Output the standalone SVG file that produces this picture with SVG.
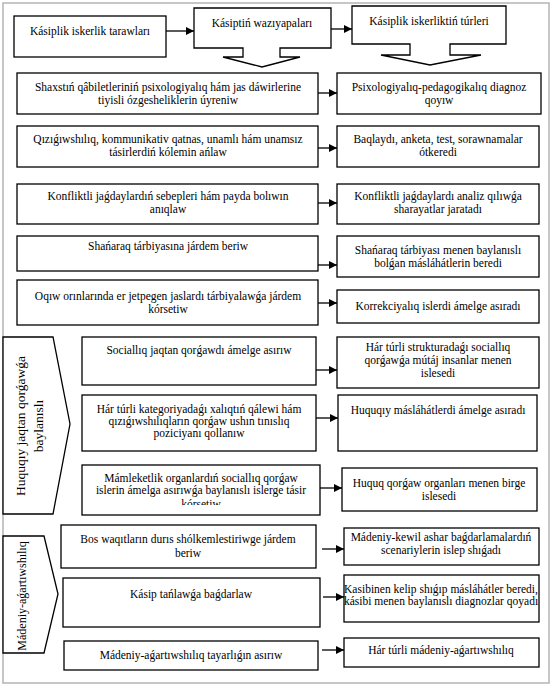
<svg xmlns="http://www.w3.org/2000/svg" width="553" height="688" viewBox="0 0 553 688">
<style>
.frame{fill:#fff;stroke:#b4b4b4;stroke-width:1.5}
.box{fill:#fff;stroke:#000;stroke-width:1.3}
.t{font-family:"Liberation Serif","Times New Roman",serif;font-size:11.5px;text-anchor:middle;fill:#000}
.vt{font-family:"Liberation Serif","Times New Roman",serif;font-size:13.5px;text-anchor:middle;fill:#000}
.ar{stroke:#000;stroke-width:1.3;fill:none;marker-end:url(#ah)}
</style>
<defs>
<marker id="ah" viewBox="0 0 10 10" refX="10" refY="5" markerWidth="8" markerHeight="8" orient="auto" markerUnits="userSpaceOnUse"><path d="M0,0 L10,5 L0,10 z" fill="#000"/></marker>
<clipPath id="c8"><rect x="82" y="465" width="238" height="40"/></clipPath>
</defs>
<rect class="frame" x="3" y="3" width="546" height="680"/>

<g id="n-tarawlar"><rect class="box" x="14" y="16" width="152" height="41"/><text class="t" x="90" y="35">Kásiplik iskerlik tarawları</text></g>
<g id="n-wazıypalar"><path class="box" d="M194,8 H331 V48 H280 V57 H300 L262,67 L223,57 H243 V48 H194 Z"/><text class="t" x="262" y="27">Kásiptiń wazıyapaları</text></g>
<g id="n-turler"><path class="box" d="M352,6 H506 V44 H450 V55 H481 L430,65 L381,55 H410 V44 H352 Z"/><text class="t" x="429" y="25">Kásiplik iskerliktiń túrleri</text></g>

<g id="r1l"><rect class="box" x="17" y="73" width="301" height="41"/><text class="t" x="168"><tspan x="168" y="91">Shaxstıń qâbiletleriniń psixologiyalıq hám jas dáwirlerine</tspan><tspan x="168" y="104">tiyisli  ózgesheliklerin úyreniw</tspan></text></g>
<g id="r1r"><rect class="box" x="337" y="73" width="204" height="41"/><text class="t"><tspan x="439" y="91">Psixologiyalıq-pedagogikalıq diagnoz</tspan><tspan x="439" y="104">qoyıw</tspan></text></g>

<g id="r2l"><rect class="box" x="17" y="126" width="301" height="41"/><text class="t"><tspan x="168" y="143">Qızıǵıwshılıq, kommunikativ qatnas, unamlı hám unamsız</tspan><tspan x="168" y="156">tásirlerdiń kólemin ańlaw</tspan></text></g>
<g id="r2r"><rect class="box" x="337" y="126" width="202" height="41"/><text class="t"><tspan x="438" y="143">Baqlaydı, anketa, test, sorawnamalar</tspan><tspan x="438" y="156">ótkeredi</tspan></text></g>

<g id="r3l"><rect class="box" x="17" y="184" width="301" height="40"/><text class="t"><tspan x="168" y="200">Konfliktli jaǵdaylardıń sebepleri hám payda bolıwın</tspan><tspan x="168" y="213">anıqlaw</tspan></text></g>
<g id="r3r"><rect class="box" x="337" y="184" width="202" height="40"/><text class="t"><tspan x="438" y="200">Konfliktli jaǵdaylardı analiz qılıwǵa</tspan><tspan x="438" y="213">sharayatlar jaratadı</tspan></text></g>

<g id="r4l"><rect class="box" x="17" y="236" width="301" height="35"/><text class="t" x="168" y="250">Shańaraq tárbiyasına járdem beriw</text></g>
<g id="r4r"><rect class="box" x="337" y="236" width="202" height="41"/><text class="t"><tspan x="438" y="254">Shańaraq tárbiyası menen baylanıslı</tspan><tspan x="438" y="267">bolǵan másláhátlerin beredi</tspan></text></g>

<g id="r5l"><rect class="box" x="17" y="280" width="301" height="45"/><text class="t"><tspan x="168" y="300">Oqıw orınlarında er jetpegen jaslardı tárbiyalawǵa járdem</tspan><tspan x="168" y="313">kórsetiw</tspan></text></g>
<g id="r5r"><rect class="box" x="337" y="290" width="202" height="33"/><text class="t" x="438" y="310">Korrekciyalıq islerdi ámelge asıradı</text></g>

<g id="p-huquq"><path class="box" d="M3,337 H53 L70,424 L53,514 H3 Z"/><text class="vt" transform="translate(25,426) rotate(-90)"><tspan x="0" y="0">Huquqıy jaqtan  qorǵawǵa</tspan><tspan x="0" y="18">baylanıslı</tspan></text></g>

<g id="r6l"><rect class="box" x="82" y="337" width="234" height="48"/><text class="t" x="199" y="354">Sociallıq jaqtan qorǵawdı ámelge asırıw</text></g>
<g id="r6r"><rect class="box" x="337" y="337" width="202" height="51"/><text class="t"><tspan x="438" y="351">Hár túrli strukturadaǵı sociallıq</tspan><tspan x="438" y="364">qorǵawǵa mútáj insanlar menen</tspan><tspan x="438" y="377">islesedi</tspan></text></g>

<g id="r7l"><rect class="box" x="82" y="395" width="234" height="56"/><text class="t"><tspan x="199" y="413">Hár túrli kategoriyadaǵı xalıqtıń qálewi hám</tspan><tspan x="199" y="425">qızıǵıwshılıqların  qorǵaw ushın tınıslıq</tspan><tspan x="199" y="437">poziciyanı qollanıw</tspan></text></g>
<g id="r7r"><rect class="box" x="338" y="395" width="199" height="56"/><text class="t" x="438" y="414">Huquqıy másláhátlerdi ámelge asıradı</text></g>

<g id="r8l"><rect class="box" x="82" y="465" width="238" height="50"/><text class="t" clip-path="url(#c8)"><tspan x="201" y="482">Mámleketlik organlardıń  sociallıq qorǵaw</tspan><tspan x="201" y="494">islerin ámelga asırıwǵa baylanıslı islerge tásir</tspan><tspan x="201" y="508">kórsetiw</tspan></text></g>
<g id="r8r"><rect class="box" x="342" y="468" width="195" height="43"/><text class="t"><tspan x="439" y="487">Huquq qorǵaw organları menen birge</tspan><tspan x="439" y="500">islesedi</tspan></text></g>

<g id="p-madeniy"><path class="box" d="M3,536 H44 L58,594 L44,653 H3 Z"/><text class="vt" style="font-size:12px" transform="translate(26,596) rotate(-90)">Mádeniy-aǵartıwshılıq</text></g>

<g id="r9l"><rect class="box" x="61" y="525" width="255" height="43"/><text class="t"><tspan x="188" y="543">Bos waqıtların durıs shólkemlestiriwge járdem</tspan><tspan x="188" y="557">beriw</tspan></text></g>
<g id="r9r"><rect class="box" x="344" y="528" width="195" height="37"/><text class="t"><tspan x="441" y="541">Mádeniy-kewil ashar baǵdarlamalardıń</tspan><tspan x="441" y="554">scenariylerin  islep shıǵadı</tspan></text></g>

<g id="r10l"><rect class="box" x="63" y="578" width="257" height="49"/><text class="t" x="191" y="598">Kásip tańlawǵa baǵdarlaw</text></g>
<g id="r10r"><rect class="box" x="344" y="575" width="195" height="47"/><text class="t"><tspan x="441" y="593">Kasibinen kelip shıǵıp másláhátler beredi,</tspan><tspan x="441" y="605">kásibi menen baylanıslı diagnozlar qoyadı</tspan></text></g>

<g id="r11l"><rect class="box" x="64" y="641" width="254" height="29"/><text class="t" x="191" y="659">Mádeniy-aǵartıwshılıq tayarlıǵın asırıw</text></g>
<g id="r11r"><rect class="box" x="344" y="638" width="195" height="29"/><text class="t" x="441" y="654">Hár túrli mádeniy-aǵartıwshılıq</text></g>

<g id="connectors">
<line class="ar" x1="166" y1="31" x2="194" y2="31"/>
<line class="ar" x1="331" y1="29" x2="352" y2="29"/>
<line class="ar" x1="318" y1="93" x2="337" y2="93"/>
<line class="ar" x1="318" y1="148" x2="337" y2="148"/>
<line class="ar" x1="318" y1="203" x2="337" y2="203"/>
<line class="ar" x1="318" y1="265" x2="337" y2="265"/>
<line class="ar" x1="318" y1="303" x2="337" y2="303"/>
<line class="ar" x1="316" y1="370" x2="337" y2="370"/>
<line class="ar" x1="316" y1="418" x2="338" y2="418"/>
<line class="ar" x1="320" y1="488" x2="342" y2="488"/>
<line class="ar" x1="322" y1="549" x2="344" y2="549"/>
<line class="ar" x1="323" y1="597" x2="344" y2="597"/>
<line class="ar" x1="322" y1="650" x2="344" y2="650"/>
</g>
</svg>
